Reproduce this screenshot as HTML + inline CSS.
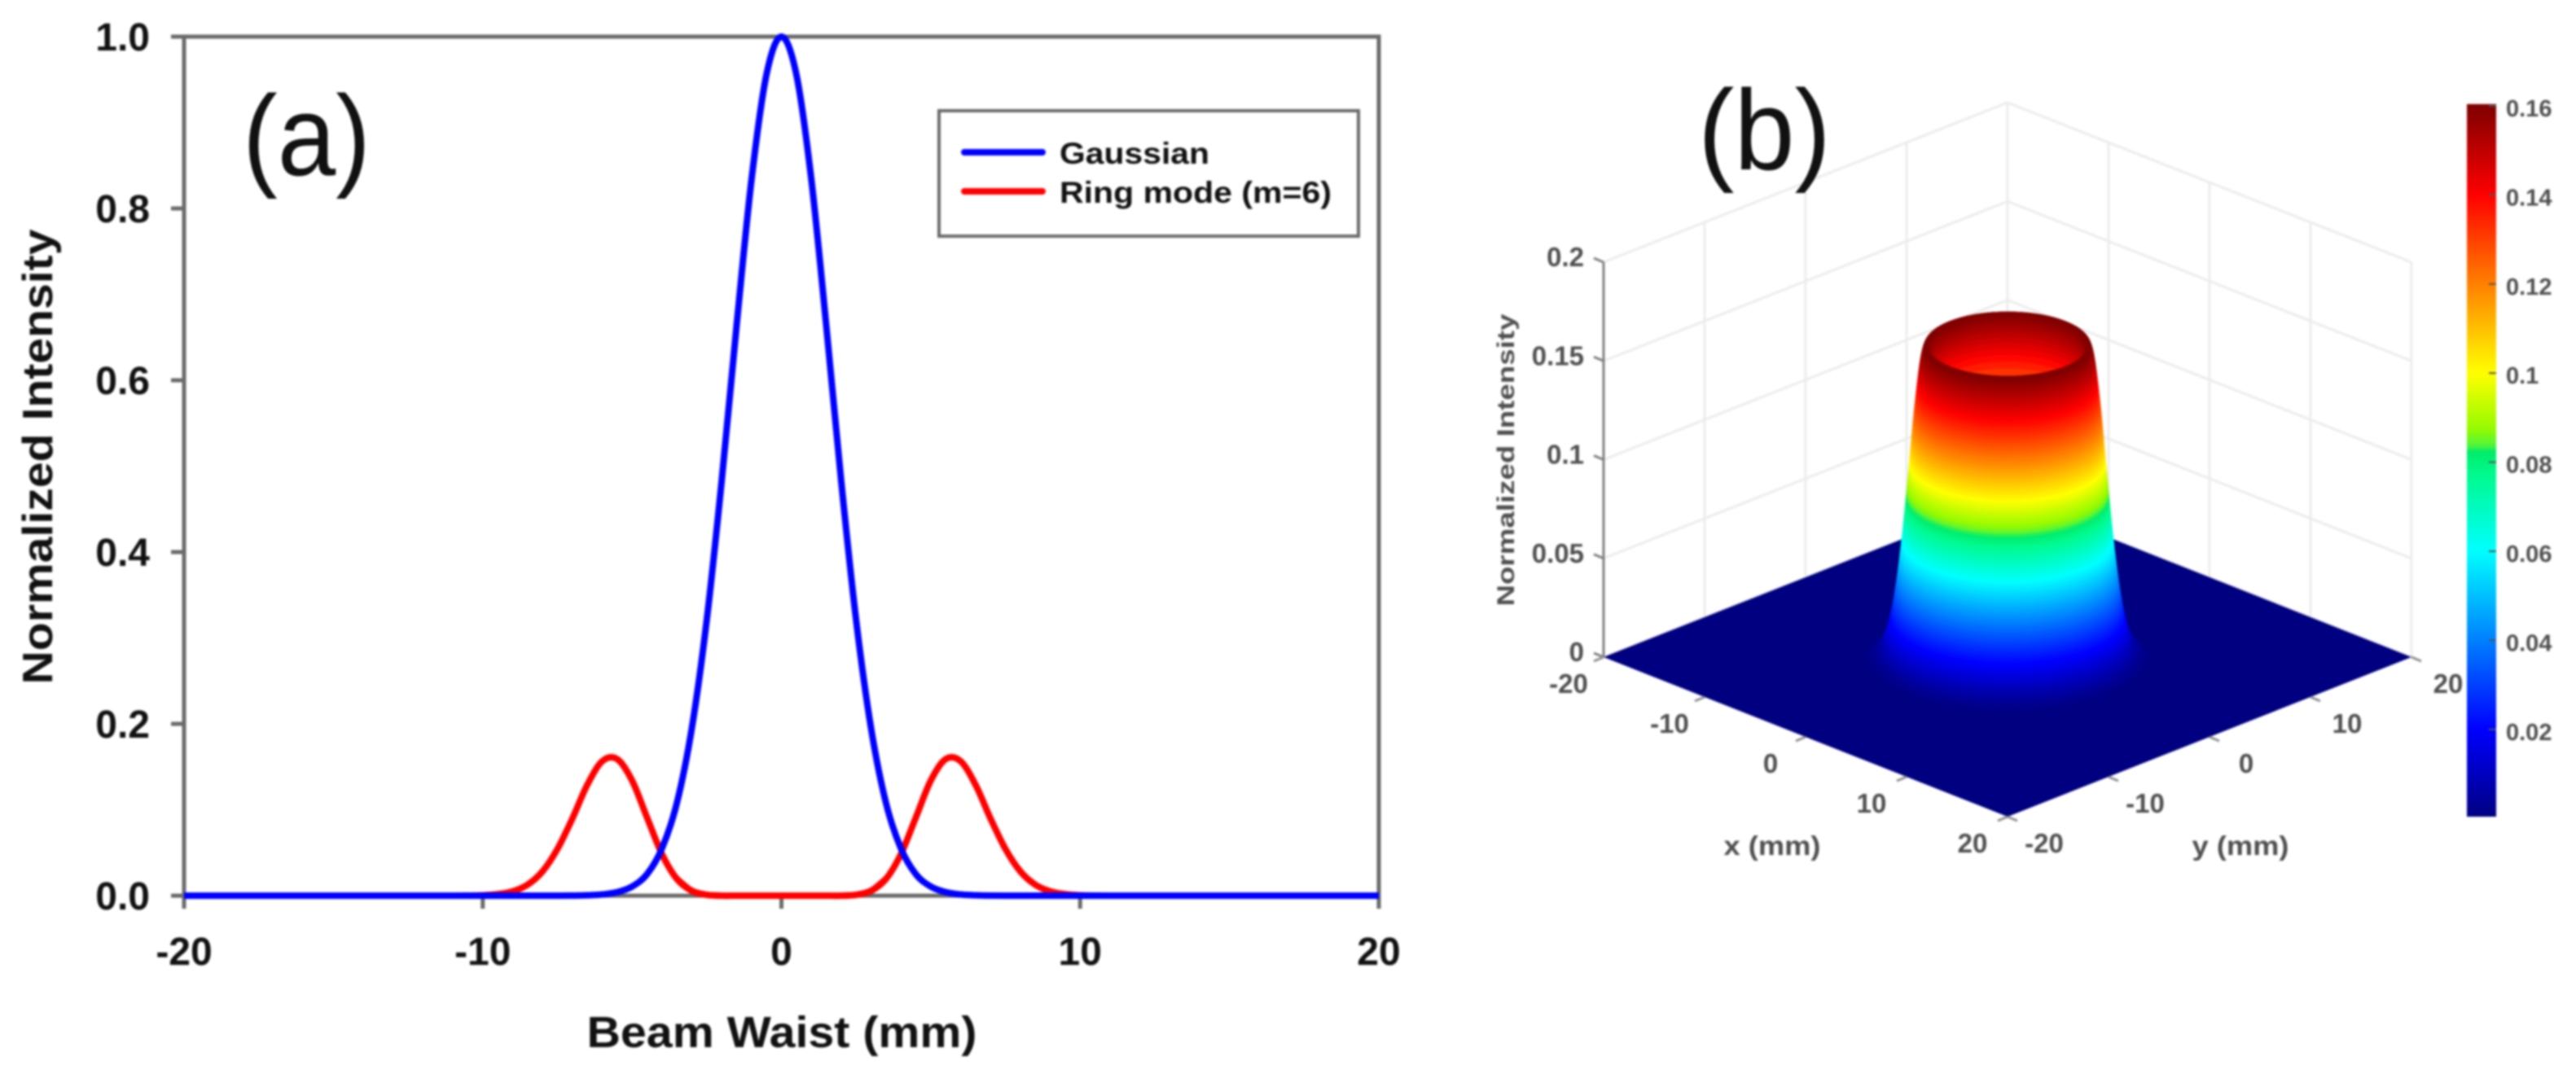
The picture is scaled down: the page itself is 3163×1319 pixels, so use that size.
<!DOCTYPE html>
<html lang="en">
<head>
<meta charset="utf-8">
<title>Gaussian and ring mode beam profiles</title>
<style>
html,body{margin:0;padding:0;background:#fff;width:3163px;height:1319px;overflow:hidden}
svg{display:block;filter:blur(1.4px)}
text{font-family:"Liberation Sans",Arial,sans-serif}
.a-text{font-weight:700;fill:#111}
.b-text{font-weight:700;fill:#4f4f4f}
</style>
</head>
<body>
<svg id="figure" xmlns="http://www.w3.org/2000/svg" width="3163" height="1319" viewBox="0 0 3163 1319">
  <defs id="defs"></defs>
  <rect x="0" y="0" width="3163" height="1319" fill="#fff"/>

  <g id="panel-a">
    <rect x="226" y="45" width="1467" height="1055" fill="none" stroke="#6a6a6a" stroke-width="5"/>
    <g id="a-ticks"></g>
    <g id="a-lines"></g>
    <text class="a-text" x="960" y="1286" font-size="54" text-anchor="middle" textLength="479" lengthAdjust="spacingAndGlyphs">Beam Waist (mm)</text>
    <text class="a-text" transform="translate(64,561) rotate(-90)" font-size="52" text-anchor="middle" textLength="559" lengthAdjust="spacingAndGlyphs">Normalized Intensity</text>
    <text x="298" y="215" font-size="140" fill="#111" textLength="157" lengthAdjust="spacingAndGlyphs">(a)</text>
    <g>
      <rect x="1153" y="136" width="515" height="154" fill="#fff" stroke="#6a6a6a" stroke-width="4"/>
      <line x1="1184" x2="1280" y1="187" y2="187" stroke="#0000ff" stroke-width="8" stroke-linecap="round"/>
      <text class="a-text" x="1301" y="201" font-size="37" textLength="184" lengthAdjust="spacingAndGlyphs">Gaussian</text>
      <line x1="1184" x2="1280" y1="235" y2="235" stroke="#ff0000" stroke-width="8" stroke-linecap="round"/>
      <text class="a-text" x="1301" y="249" font-size="37" textLength="334" lengthAdjust="spacingAndGlyphs">Ring mode (m=6)</text>
    </g>
  </g>

  <g id="panel-b">
    <g id="b-walls"></g>
    <g id="b-surface"></g>
    <g id="b-axes"></g>
    <text class="b-text" transform="translate(1859,565) rotate(-90)" font-size="30" text-anchor="middle" textLength="359" lengthAdjust="spacingAndGlyphs">Normalized Intensity</text>
    <text class="b-text" x="2176" y="1050" font-size="33" text-anchor="middle" textLength="119" lengthAdjust="spacingAndGlyphs">x (mm)</text>
    <text class="b-text" x="2751" y="1050" font-size="33" text-anchor="middle" textLength="119" lengthAdjust="spacingAndGlyphs">y (mm)</text>
    <text x="2085" y="208" font-size="140" fill="#111" textLength="163" lengthAdjust="spacingAndGlyphs">(b)</text>
    <g id="b-colorbar"></g>
  </g>
</svg>

<script>
// ---------- Panel (a) data ----------
const beamX = [-20,-15,-12,-11.5,-11,-10.5,-10,-9.5,-9,-8.5,-8,-7.5,-7,-6.5,-6,-5.5,-5,-4.5,-4,-3.5,-3,-2.5,-2,-1.5,-1,-0.5,0,0.5,1,1.5,2,2.5,3,3.5,4,4.5,5,5.5,6,6.5,7,7.5,8,8.5,9,9.5,10,10.5,11,11.5,12,15,20];
const gaussianValues = [0,0,0,0,0,0,0,0,0,0,0,0,0.0001,0.0005,0.0014,0.0041,0.0106,0.025,0.055,0.108,0.195,0.321,0.483,0.664,0.834,0.956,1,0.956,0.834,0.664,0.483,0.321,0.195,0.108,0.055,0.025,0.0106,0.0041,0.0014,0.0005,0.0001,0,0,0,0,0,0,0,0,0,0,0,0];
const ringValues = [0,0,0,0,0,0.0001,0.0005,0.0018,0.005,0.0127,0.0282,0.0543,0.0898,0.129,0.1565,0.159,0.134,0.091,0.0484,0.0195,0.0056,0.001,0,0,0,0,0,0,0,0,0,0.001,0.0056,0.0195,0.0484,0.091,0.134,0.159,0.1565,0.129,0.0898,0.0543,0.0282,0.0127,0.005,0.0018,0.0005,0.0001,0,0,0,0,0];
const aXTickValues = [-20,-10,0,10,20];
const aXTickLabels = ['-20','-10','0','10','20'];
const aYTickValues = [0,0.2,0.4,0.6,0.8,1];
const aYTickLabels = ['0.0','0.2','0.4','0.6','0.8','1.0'];

// ---------- Panel (b) data ----------
const surfaceRadius = [0,1,1.5,2,2.5,3,3.5,4,4.5,5,5.5,6,6.5,7,7.5,8,8.5,9,9.5,10,10.5,11,12];
const surfaceIntensity = [0,0,0,0,0.001,0.0056,0.0195,0.0484,0.091,0.134,0.159,0.1565,0.129,0.0898,0.0543,0.0282,0.0127,0.005,0.0018,0.0005,0.0001,0,0];
const planTicks = [-20,-10,0,10,20];
const planTickLabels = ['-20','-10','0','10','20'];
const zTicks = [0,0.05,0.1,0.15,0.2];
const zTickLabels = ['0','0.05','0.1','0.15','0.2'];
const colorbarTicks = [0.02,0.04,0.06,0.08,0.1,0.12,0.14,0.16];
const colorbarLabels = ['0.02','0.04','0.06','0.08','0.1','0.12','0.14','0.16'];
const colorbarRange = [0.0004,0.1604];

// ---------- helpers ----------
const NS = 'http://www.w3.org/2000/svg';
function make(tag, attrs, parent, content) {
  const el = document.createElementNS(NS, tag);
  for (const k in attrs) el.setAttribute(k, attrs[k]);
  if (content !== undefined) el.textContent = content;
  parent.appendChild(el);
  return el;
}
function smoothPath(pts) {
  let d = 'M' + pts[0][0].toFixed(2) + ' ' + pts[0][1].toFixed(2);
  for (let i = 0; i < pts.length - 1; i++) {
    const p0 = pts[Math.max(0, i - 1)], p1 = pts[i], p2 = pts[i + 1], p3 = pts[Math.min(pts.length - 1, i + 2)];
    const c1x = p1[0] + (p2[0] - p0[0]) / 6, c1y = p1[1] + (p2[1] - p0[1]) / 6;
    const c2x = p2[0] - (p3[0] - p1[0]) / 6, c2y = p2[1] - (p3[1] - p1[1]) / 6;
    d += 'C' + c1x.toFixed(2) + ' ' + c1y.toFixed(2) + ' ' + c2x.toFixed(2) + ' ' + c2y.toFixed(2) + ' ' + p2[0].toFixed(2) + ' ' + p2[1].toFixed(2);
  }
  return d;
}

// ---------- Panel (a) axes ----------
const aX = v => 226 + (v + 20) / 40 * 1467;
const aY = v => 1100 - v * 1055;
const aTicks = document.getElementById('a-ticks');
aXTickValues.forEach((v, i) => {
  const t = make('line', {x1: aX(v), x2: aX(v), y1: 1100, y2: 1116, stroke: '#6a6a6a', 'stroke-width': 5}, aTicks);
  
  
  const l = make('text', {x: aX(v), y: 1185, 'font-size': 48, 'text-anchor': 'middle', class: 'a-text'}, aTicks, aXTickLabels[i]);
  
  
});
aYTickValues.forEach((v, i) => {
  const t = make('line', {x1: 210, x2: 226, y1: aY(v), y2: aY(v), stroke: '#6a6a6a', 'stroke-width': 5}, aTicks);
  
  
  const l = make('text', {x: 184, y: aY(v) + 17, 'font-size': 48, 'text-anchor': 'end', class: 'a-text'}, aTicks, aYTickLabels[i]);
  
  
});

// ---------- Panel (a) series ----------
const aLines = document.getElementById('a-lines');
const ringLine = make('path', {d: smoothPath(beamX.map((x, i) => [aX(x), aY(ringValues[i])])), fill: 'none', stroke: '#ff0000', 'stroke-width': 8, 'stroke-linejoin': 'round'}, aLines);


const gaussLine = make('path', {d: smoothPath(beamX.map((x, i) => [aX(x), aY(gaussianValues[i])])), fill: 'none', stroke: '#0000ff', 'stroke-width': 8, 'stroke-linejoin': 'round'}, aLines);


// the ring trace shows on top of the baseline where the gaussian has lifted off
const ringCentre = make('path', {d: smoothPath(beamX.map((x, i) => [aX(x), aY(ringValues[i])]).filter((p, i) => Math.abs(beamX[i]) <= 3.5)), fill: 'none', stroke: '#ff0000', 'stroke-width': 8}, aLines);



// ---------- Panel (b) projection ----------
const floorCx = 2465, floorCy = 807;
const px = (x, y) => floorCx + (x + y) * 12.4;
const py = (x, y, z) => floorCy + (x - y) * 4.9 - z * 2425;
const pySurface = (x, y, z) => floorCy + (x - y) * 4.9 - z * 2385;

// Jet colormap as rendered in the reference: a hard step sits just above the 0.08 tick.
function jet(v) {
  const lerp = (a, b, u) => a + (b - a) * u;
  const greenBand = [
    [0.06, 0, 255, 255], [0.0775, 0, 250, 140], [0.0825, 0, 235, 105],
    [0.0836, 80, 245, 60], [0.0875, 150, 250, 0], [0.1, 255, 255, 0]
  ];
  if (v > 0.06 && v < 0.1) {
    for (let i = 0; i < greenBand.length - 1; i++) {
      const a = greenBand[i], b = greenBand[i + 1];
      if (v >= a[0] && v <= b[0]) {
        const u = (v - a[0]) / (b[0] - a[0]);
        return 'rgb(' + Math.round(lerp(a[1], b[1], u)) + ',' + Math.round(lerp(a[2], b[2], u)) + ',' + Math.round(lerp(a[3], b[3], u)) + ')';
      }
    }
  }
  const t = Math.max(0, Math.min(1, v / 0.16));
  const r = Math.round(255 * Math.max(0, Math.min(1, Math.min(4 * t - 1.5, -4 * t + 4.5))));
  const g = Math.round(255 * Math.max(0, Math.min(1, Math.min(4 * t - 0.5, -4 * t + 3.5))));
  const b = Math.round(255 * Math.max(0, Math.min(1, Math.min(4 * t + 0.5, -4 * t + 2.5))));
  return 'rgb(' + r + ',' + g + ',' + b + ')';
}
function profile(r) {
  const n = surfaceRadius.length;
  if (r >= surfaceRadius[n - 1]) return 0;
  let i = 0;
  while (i < n - 2 && surfaceRadius[i + 1] <= r) i++;
  const x0 = surfaceRadius[i], x1 = surfaceRadius[i + 1], h = x1 - x0, u = (r - x0) / h;
  const y0 = surfaceIntensity[Math.max(0, i - 1)], y1 = surfaceIntensity[i], y2 = surfaceIntensity[i + 1], y3 = surfaceIntensity[Math.min(n - 1, i + 2)];
  const m1 = (y2 - y0) / 2, m2 = (y3 - y1) / 2;
  const val = (2*u*u*u - 3*u*u + 1) * y1 + (u*u*u - 2*u*u + u) * m1 + (-2*u*u*u + 3*u*u) * y2 + (u*u*u - u*u) * m2;
  return Math.max(0, val);
}

// ---------- walls ----------
const walls = document.getElementById('b-walls');
const gridColor = '#ececec';
zTicks.forEach(z => {
  const l1 = make('line', {x1: px(-20, -20), y1: py(-20, -20, z), x2: px(-20, 20), y2: py(-20, 20, z), stroke: gridColor, 'stroke-width': 3}, walls);
  
  
  const l2 = make('line', {x1: px(-20, 20), y1: py(-20, 20, z), x2: px(20, 20), y2: py(20, 20, z), stroke: gridColor, 'stroke-width': 3}, walls);
  
  
});
const zTop = zTicks[zTicks.length - 1];
planTicks.forEach(t => {
  const l1 = make('line', {x1: px(-20, t), y1: py(-20, t, 0), x2: px(-20, t), y2: py(-20, t, zTop), stroke: gridColor, 'stroke-width': 3}, walls);
  
  
  const l2 = make('line', {x1: px(t, 20), y1: py(t, 20, 0), x2: px(t, 20), y2: py(t, 20, zTop), stroke: gridColor, 'stroke-width': 3}, walls);
  
  
});

// ---------- surface ----------
const surface = document.getElementById('b-surface');
const floorPoly = make('polygon', {points: [[-20,-20],[-20,20],[20,20],[20,-20]].map(c => px(c[0], c[1]) + ',' + py(c[0], c[1], 0)).join(' '), fill: '#000080'}, surface);



const radialSteps = [];
for (let r = 3; r < 5.7; r += 0.05) radialSteps.push(r);
for (let r = 5.7; r < 9.5; r += 0.02) radialSteps.push(r);
for (let r = 9.5; r <= 11; r += 0.1) radialSteps.push(r);
const angleCount = 120;
const quads = [];
for (let i = 0; i < radialSteps.length - 1; i++) {
  const r0 = radialSteps[i], r1 = radialSteps[i + 1];
  const z0 = profile(r0), z1 = profile(r1);
  for (let a = 0; a < angleCount; a++) {
    const t0 = a / angleCount * 2 * Math.PI, t1 = (a + 1) / angleCount * 2 * Math.PI;
    const rm = (r0 + r1) / 2, tm = (t0 + t1) / 2;
    const depth = rm * Math.cos(tm) - rm * Math.sin(tm);
    // quads hidden behind the tower walls are not drawn
    if (rm > 6 && depth < -2.5) continue;
    if (rm < 5.4 && depth > 2) continue;
    const corners = [[r0, t0, z0], [r1, t0, z1], [r1, t1, z1], [r0, t1, z0]];
    quads.push({
      depth: depth,
      pts: corners.map(c => {
        const x = c[0] * Math.cos(c[1]), y = c[0] * Math.sin(c[1]);
        return px(x, y).toFixed(1) + ',' + pySurface(x, y, c[2]).toFixed(1);
      }).join(' '),
      color: jet((z0 + z1) / 2)
    });
  }
}
quads.sort((p, q) => p.depth - q.depth);
quads.forEach(q => {
  const cell = make('polygon', {points: q.pts, fill: q.color, stroke: q.color, 'stroke-width': 0.7}, surface);
  
  
});

// ---------- 3D axes ----------
const axes3d = document.getElementById('b-axes');
const zAxis = make('line', {x1: px(-20, -20), y1: py(-20, -20, 0), x2: px(-20, -20), y2: py(-20, -20, zTop), stroke: '#808080', 'stroke-width': 3}, axes3d);


zTicks.forEach((z, i) => {
  const yy = py(-20, -20, z);
  const t = make('line', {x1: px(-20, -20), x2: px(-20, -20) - 12, y1: yy, y2: yy - 5, stroke: '#808080', 'stroke-width': 3}, axes3d);
  
  
  const l = make('text', {x: 1945, y: yy + 5, 'font-size': 33, 'text-anchor': 'end', class: 'b-text'}, axes3d, zTickLabels[i]);
  
  
});
planTicks.forEach((v, i) => {
  const ex = px(v, -20), ey = py(v, -20, 0);
  const t1 = make('line', {x1: ex, y1: ey, x2: ex - 12, y2: ey + 5, stroke: '#909090', 'stroke-width': 3}, axes3d);
  
  
  const l1 = make('text', {x: ex - 43, y: ey + 44, 'font-size': 33, 'text-anchor': 'middle', class: 'b-text'}, axes3d, planTickLabels[i]);
  
  
  const fx = px(20, v), fy = py(20, v, 0);
  const t2 = make('line', {x1: fx, y1: fy, x2: fx + 12, y2: fy + 5, stroke: '#909090', 'stroke-width': 3}, axes3d);
  
  
  const l2 = make('text', {x: fx + 45, y: fy + 44, 'font-size': 33, 'text-anchor': 'middle', class: 'b-text'}, axes3d, planTickLabels[i]);
  
  
});

// ---------- colorbar ----------
const cb = document.getElementById('b-colorbar');
const cbY = v => 130 + (0.16 - v) / 0.02 * 109.4;
const grad = make('linearGradient', {id: 'jet-gradient', x1: 0, y1: 1, x2: 0, y2: 0}, document.getElementById('defs'));


for (let i = 0; i <= 160; i++) {
  const f = i / 160;
  const s = make('stop', {offset: f, 'stop-color': jet(colorbarRange[0] + f * (colorbarRange[1] - colorbarRange[0]))}, grad);
  
  
}
const cbBar = make('rect', {x: 3029, y: cbY(colorbarRange[1]), width: 36, height: cbY(colorbarRange[0]) - cbY(colorbarRange[1]), fill: 'url(#jet-gradient)'}, cb);


colorbarTicks.forEach((v, i) => {
  const yy = cbY(v);
  const t = make('line', {x1: 3056, x2: 3065, y1: yy, y2: yy, stroke: '#555', 'stroke-width': 2}, cb);
  
  
  const l = make('text', {x: 3077, y: yy + 13, 'font-size': 29, class: 'b-text'}, cb, colorbarLabels[i]);
  
  
});
</script>
</body>
</html>
